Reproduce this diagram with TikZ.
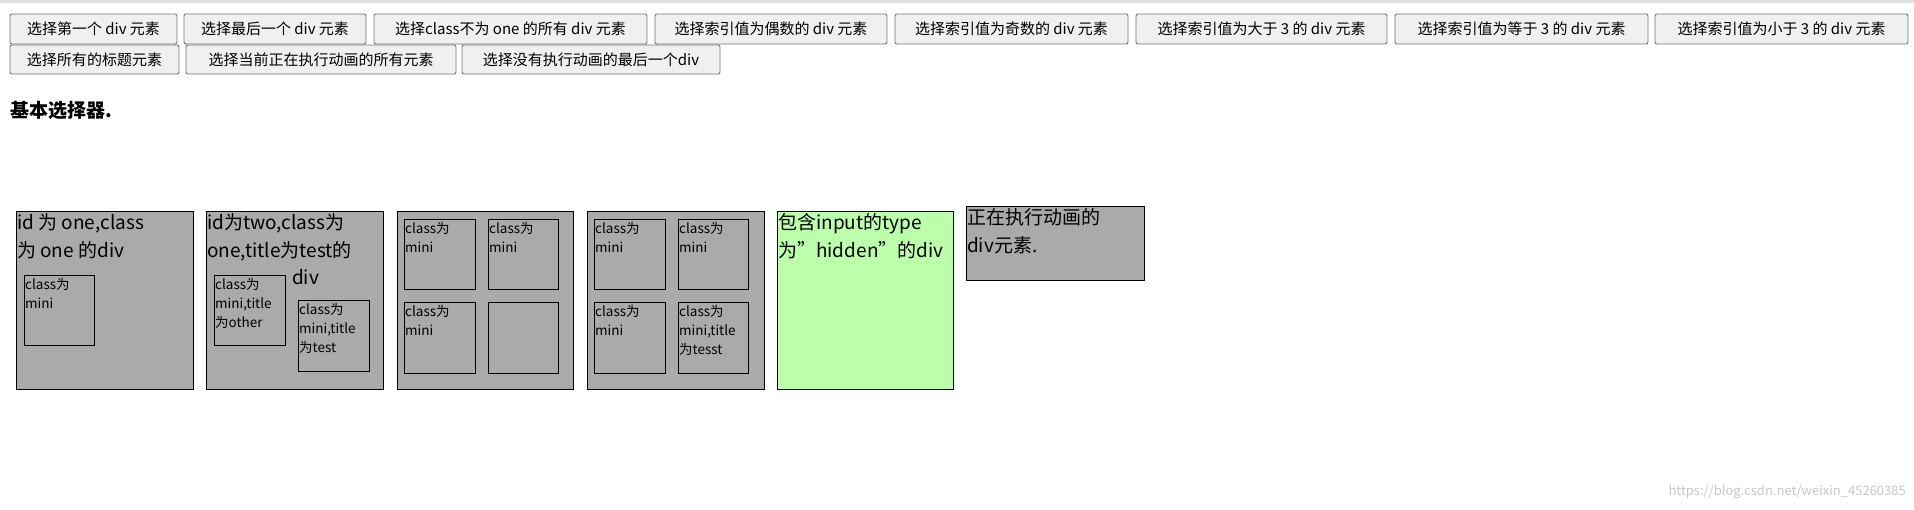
\documentclass[tikz,border=0pt]{standalone}
\usepackage{fontspec}
\setmainfont{Noto Sans CJK SC}
\begin{document}
\begin{tikzpicture}[x=1pt,y=-1pt,
  btn/.style={draw=black!54,fill=black!6,rounded corners=2pt,inner sep=0pt,font=\fontsize{15}{17}\selectfont,line width=0.9pt},
  outer/.style={draw=black,fill=black!33.5,line width=1pt},
  mini/.style={draw=black,fill=black!33.5,line width=1pt},
  big/.style={anchor=north west,inner sep=0pt,align=left,font=\fontsize{19}{28}\selectfont},
  small/.style={anchor=north west,inner sep=0pt,align=left,font=\fontsize{13.5}{19}\selectfont}]
\useasboundingbox (0,0) rectangle (1914,509);
\fill[black!12] (0,0) rectangle (1914,3);
\newcommand{\mybtn}[6]{\node[btn,minimum width=#3-#2,minimum height=#5-#4] (#1) at ({(#2+#3)/2},{(#4+#5)/2}) {#6};}
\mybtn{b1}{10}{177}{14}{44}{选择第一个 div 元素}
\mybtn{b2}{184}{366}{14}{44}{选择最后一个 div 元素}
\mybtn{b3}{374}{647}{14}{44}{选择class不为 one 的所有 div 元素}
\mybtn{b4}{655}{887}{14}{44}{选择索引值为偶数的 div 元素}
\mybtn{b5}{895}{1128}{14}{44}{选择索引值为奇数的 div 元素}
\mybtn{b6}{1136}{1387}{14}{44}{选择索引值为大于 3 的 div 元素}
\mybtn{b7}{1395}{1648}{14}{44}{选择索引值为等于 3 的 div 元素}
\mybtn{b8}{1655}{1908}{14}{44}{选择索引值为小于 3 的 div 元素}
\mybtn{b9}{10}{179}{45}{74}{选择所有的标题元素}
\mybtn{b10}{186}{456}{45}{74}{选择当前正在执行动画的所有元素}
\mybtn{b11}{462}{720}{45}{74}{选择没有执行动画的最后一个div}
\node[anchor=north west,inner sep=0pt,font=\fontsize{19}{22}\selectfont\bfseries] (h) at (10,101) {基本选择器.};
% outer boxes
\draw[outer] (16,211) rectangle (193,389);
\draw[outer] (206,211) rectangle (383,389);
\draw[outer] (397,211) rectangle (573,389);
\draw[outer] (587,211) rectangle (764,389);
\draw[outer,fill={rgb,255:red,187;green,255;blue,170}] (777,211) rectangle (953,389);
\draw[outer] (966,206) rectangle (1144,280);
% minis
\draw[mini] (24,275) rectangle (94,345);
\draw[mini] (214,275) rectangle (285,345);
\draw[mini] (298,300) rectangle (369,371);
\draw[mini] (404,219) rectangle (475,289);
\draw[mini] (488,219) rectangle (558,289);
\draw[mini] (404,302) rectangle (475,373);
\draw[mini] (488,302) rectangle (558,373);
\draw[mini] (594,219) rectangle (665,289);
\draw[mini] (678,219) rectangle (748,289);
\draw[mini] (594,302) rectangle (665,373);
\draw[mini] (678,302) rectangle (748,373);
% big texts
\node[big] (t1) at (17,213) {id 为 one,class\\为 one 的div};
\node[big] (t2) at (207,213) {id为two,class为\\one,title为test的};
\node[big] (t2b) at (292,269) {div};
\node[big] (t5) at (778,213) {包含input的type\\为"hidden"的div};
\node[big] (t6) at (967,208) {正在执行动画的\\div元素.};
% small texts
\node[small] (s1) at (25,278) {class为\\mini};
\node[small] (s2) at (215,278) {class为\\mini,title\\为other};
\node[small] (s3) at (299,303) {class为\\mini,title\\为test};
\node[small] (s4) at (405,222) {class为\\mini};
\node[small] (s5) at (489,222) {class为\\mini};
\node[small] (s6) at (405,305) {class为\\mini};
\node[small] (s7) at (595,222) {class为\\mini};
\node[small] (s8) at (679,222) {class为\\mini};
\node[small] (s9) at (595,305) {class为\\mini};
\node[small] (s10) at (679,305) {class为\\mini,title\\为tesst};
\node[anchor=south east,inner sep=0pt,text=black!22,font=\fontsize{13}{15}\selectfont] (wm) at (1906,499) {https://blog.csdn.net/weixin\_45260385};
\end{tikzpicture}
\end{document}
